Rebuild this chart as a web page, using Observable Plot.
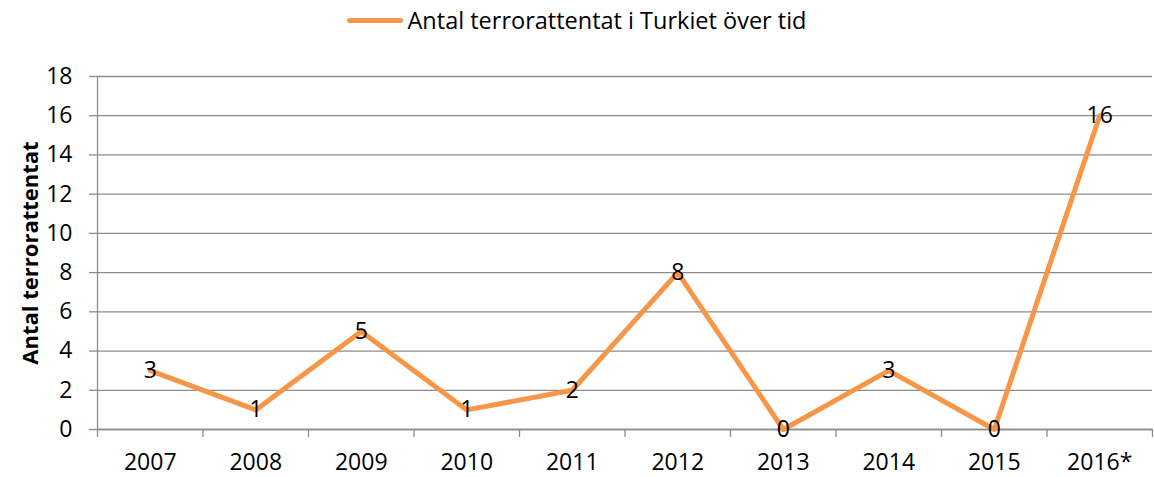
<!DOCTYPE html>
<html>
<head>
<meta charset="utf-8">
<script src="https://cdn.jsdelivr.net/npm/d3@7"></script>
<script src="https://cdn.jsdelivr.net/npm/@observablehq/plot@0.6"></script>
<style>
  body { margin: 0; background: #fff; font-family: "Open Sans", sans-serif; }
  #legend { height: 40px; padding-top: 1px; box-sizing: border-box; display: flex; align-items: center; justify-content: center; gap: 4px; font-size: 23.5px; line-height: 1; color: #000; }
  #legend .sw { width: 56px; height: 5px; border-radius: 3px; background: #F79646; }
</style>
</head>
<body>
<div id="legend"><span class="sw"></span><span>Antal terrorattentat i Turkiet över tid</span></div>
<div id="chart"></div>
<script>
const years = ["2007", "2008", "2009", "2010", "2011", "2012", "2013", "2014", "2015", "2016*"];
const attacks = [3, 1, 5, 1, 2, 8, 0, 3, 0, 16];
const yTicks = [0, 2, 4, 6, 8, 10, 12, 14, 16, 18];
const yLabel = "Antal terrorattentat";

const data = years.map((y, i) => ({i, year: y, value: attacks[i]}));
const idx = years.map((_, i) => i);
const bounds = [...idx.map(i => i - 0.5), years.length - 0.5];

const plot = Plot.plot({
  width: 1154,
  height: 437,
  marginTop: 36,
  marginBottom: 48,
  marginLeft: 97,
  marginRight: 2,
  style: {fontFamily: "Open Sans", fontSize: "23px", color: "#000", background: "#fff"},
  x: {type: "linear", domain: [-0.5, years.length - 0.5], label: null},
  y: {domain: [0, 18], label: null},
  marks: [
    Plot.gridY(yTicks, {stroke: "#8c8c8c", strokeOpacity: 1, strokeWidth: 1.3}),
    Plot.axisY(yTicks, {tickSize: 8, tickPadding: 17, stroke: "#8c8c8c", strokeWidth: 1.3, fontSize: 23, fill: "#000", label: null}),
    Plot.ruleX([-0.5], {stroke: "#8c8c8c", strokeWidth: 1.3}),
    Plot.ruleY([0], {stroke: "#8c8c8c", strokeWidth: 1.3}),
    Plot.axisX(bounds, {tickSize: 8, tickFormat: () => "", stroke: "#8c8c8c", strokeWidth: 1.3, label: null}),
    Plot.axisX(idx, {tickSize: 0, tickPadding: 24, tickFormat: i => years[i], fontSize: 23, fill: "#000", label: null}),
    Plot.line(data, {x: "i", y: "value", stroke: "#F79646", strokeWidth: 5, strokeLinejoin: "round"}),
    Plot.text(data, {x: "i", y: "value", text: d => String(d.value), fontSize: 23, fill: "#000"}),
    Plot.text([yLabel], {frameAnchor: "left", textAnchor: "middle", rotate: -90, dx: -67, text: d => d, fontSize: 22, fontWeight: "bold", fill: "#000"})
  ]
});
document.getElementById("chart").appendChild(plot);
</script>
</body>
</html>
